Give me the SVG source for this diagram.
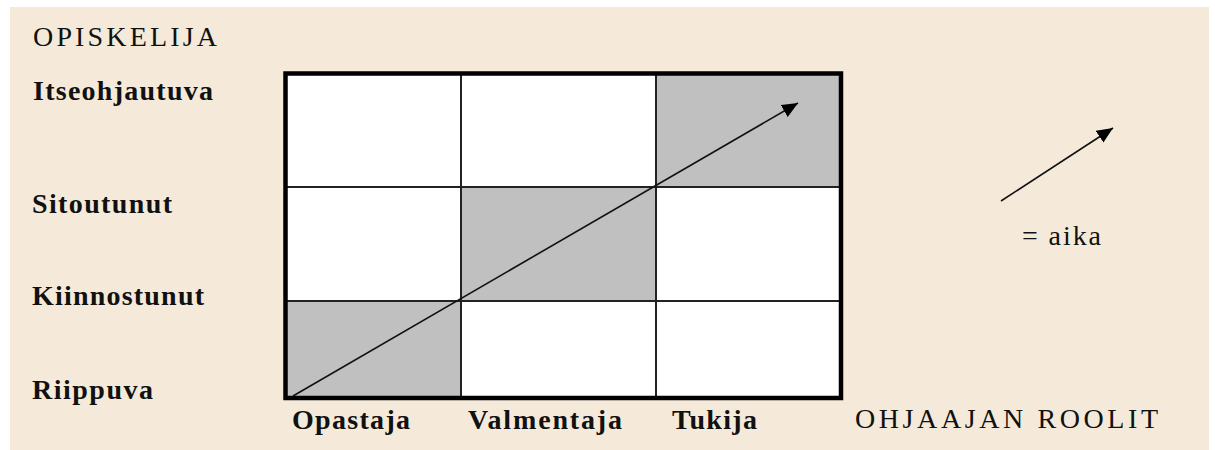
<svg xmlns="http://www.w3.org/2000/svg" width="1215" height="450" viewBox="0 0 1215 450">
<style>
.lbl{font-family:"Liberation Serif","Times New Roman",serif;font-size:28px;fill:#111;}
.b{font-weight:bold;}
.inner{stroke:#222;stroke-width:2;fill:none;}
.shade{fill:#C0C0C0;}
.arr{stroke:#111;stroke-width:1.6;fill:none;marker-end:url(#ah);}
</style>
<defs>
<marker id="ah" markerUnits="userSpaceOnUse" markerWidth="18" markerHeight="14" refX="16" refY="7" orient="auto">
<path d="M0,0 L16,7 L0,14 Z" fill="#000"/>
</marker>
</defs>
<rect x="0" y="0" width="1215" height="450" fill="#fff"/>
<rect x="10" y="7" width="1199" height="443" fill="#F5EADA"/>
<g id="grid">
<rect x="286" y="74" width="555" height="324" fill="#fff"/>
<rect class="shade" x="656" y="74" width="185" height="113"/>
<rect class="shade" x="461" y="187" width="195" height="114"/>
<rect class="shade" x="286" y="301" width="175" height="97"/>
<line class="inner" x1="461" y1="74" x2="461" y2="398"/>
<line class="inner" x1="656" y1="74" x2="656" y2="398"/>
<line class="inner" x1="286" y1="187" x2="841" y2="187"/>
<line class="inner" x1="286" y1="301" x2="841" y2="301"/>
<rect x="285.5" y="73.5" width="555.5" height="324.5" fill="none" stroke="#000" stroke-width="4.5"/>
</g>
<g id="connectors">
<line class="arr" x1="293" y1="396" x2="798" y2="103"/>
<line class="arr" x1="1001" y1="201" x2="1113" y2="128"/>
</g>
<g id="labels-y">
<text class="lbl" x="33" y="46" textLength="184" lengthAdjust="spacing">OPISKELIJA</text>
<text class="lbl b" x="33" y="100" textLength="180" lengthAdjust="spacing">Itseohjautuva</text>
<text class="lbl b" x="32" y="213" textLength="140" lengthAdjust="spacing">Sitoutunut</text>
<text class="lbl b" x="32" y="305" textLength="172" lengthAdjust="spacing">Kiinnostunut</text>
<text class="lbl b" x="32" y="399" textLength="121" lengthAdjust="spacing">Riippuva</text>
</g>
<g id="labels-x">
<text class="lbl b" x="292" y="429" textLength="118" lengthAdjust="spacing">Opastaja</text>
<text class="lbl b" x="468" y="429" textLength="154" lengthAdjust="spacing">Valmentaja</text>
<text class="lbl b" x="672" y="429" textLength="85" lengthAdjust="spacing">Tukija</text>
<text class="lbl" x="855" y="428" textLength="303" lengthAdjust="spacing">OHJAAJAN ROOLIT</text>
</g>
<g id="legend">
<text class="lbl" x="1022" y="245" textLength="79" lengthAdjust="spacing">= aika</text>
</g>
</svg>
